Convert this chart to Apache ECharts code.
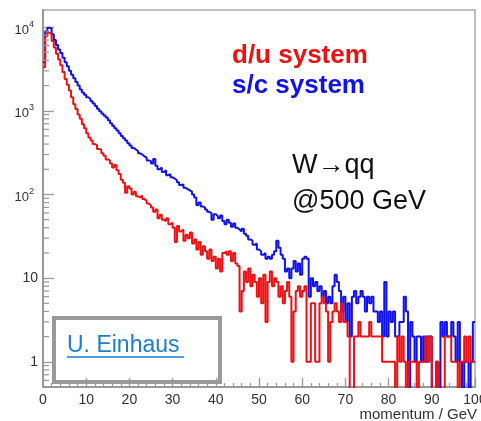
<!DOCTYPE html>
<html><head><meta charset="utf-8">
<script src="https://cdn.jsdelivr.net/npm/echarts@6/dist/echarts.min.js"></script>
<style>html,body{margin:0;padding:0;background:#fff}#c{width:481px;height:421px}</style>
</head><body><div id="c"></div>
<script>
// bin width in GeV; counts per 0.5 GeV bin, from 0 to 100 GeV (200 bins)
const binWidth = 0.5;
const seriesNames = ['d/u system', 's/c system'];
const duCounts = [
  3300, 7800, 8600, 8200, 6800, 5700, 4800, 4100, 3500, 2900,
  2400, 2050, 1750, 1450, 1200, 1050, 900, 800, 690, 620,
  540, 480, 440, 400, 390, 350, 340, 310, 290, 262,
  255, 235, 210, 225, 195, 175, 150, 138, 105, 125,
  118, 100, 108, 95, 92, 97, 88, 84, 78, 74,
  70, 62, 66, 52, 57, 50, 48, 52, 44, 46,
  40, 27, 42, 36, 38, 28, 33, 30, 35, 26,
  29, 22, 27, 19, 24, 21, 17, 22, 16, 18,
  13, 17, 12, 20, 21, 19, 21, 16, 20, 15,
  14, 4, 7, 12, 9, 13, 8, 11, 9, 6,
  10, 5, 11, 3, 9, 12, 8, 10, 9, 6,
  8, 5, 7, 9, 6, 1, 4, 7, 8, 6,
  7, 8, 1, 1, 5, 5, 1, 1, 5, 6,
  5, 4, 1, 3, 4, 5, 4, 3, 5, 3,
  3, 2, 0, 0, 2, 2, 3, 2, 2, 2,
  2, 3, 2, 2, 2, 2, 2, 1, 1, 1,
  1, 1, 1, 0, 2, 1, 2, 1, 0, 1,
  1, 1, 1, 0, 1, 1, 1, 2, 1, 2,
  0, 0, 1, 0, 0, 0, 2, 2, 2, 1,
  1, 1, 0, 1, 1, 2, 1, 2, 1, 1
];
const scCounts = [
  3800, 9000, 9800, 9600, 8200, 7000, 6100, 5400, 4900, 4300,
  3800, 3400, 3000, 2700, 2450, 2200, 2000, 1800, 1650, 1550,
  1450, 1380, 1300, 1220, 1140, 1060, 990, 930, 880, 830,
  770, 710, 660, 620, 580, 540, 500, 470, 440, 410,
  385, 360, 345, 330, 310, 300, 285, 275, 255, 250,
  235, 265, 220, 200, 210, 185, 195, 170, 175, 160,
  155, 148, 140, 130, 132, 120, 116, 112, 108, 100,
  92, 75, 80, 72, 70, 66, 62, 60, 50, 58,
  55, 52, 56, 48, 44, 50, 46, 41, 45, 40,
  38, 36, 39, 34, 32, 29, 28, 25, 26, 22,
  21, 19, 20, 17, 18, 17, 19, 21, 28, 23,
  19, 17, 12, 13, 10, 13, 16, 12, 15, 11,
  17, 18, 17, 6, 10, 8, 9, 7, 8, 6,
  7, 5, 6, 5, 8, 11, 9, 7, 4, 6,
  3, 5, 2, 6, 7, 5, 6, 7, 6, 4,
  6, 5, 6, 4, 4, 3, 4, 2, 9, 2,
  4, 3, 4, 2, 2, 3, 3, 6, 4, 0,
  3, 2, 1, 2, 2, 1, 2, 1, 2, 2,
  0, 0, 1, 0, 3, 2, 3, 2, 2, 3,
  2, 1, 3, 1, 0, 1, 1, 0, 1, 3
];
const yMinorTickValues = [0.6,0.7,0.8,0.9,2,3,4,5,6,7,8,9,20,30,40,50,60,70,80,90,200,300,400,500,600,700,800,900,2000,3000,4000,5000,6000,7000,8000,9000];
const annotationLines = ['W\u2192qq', '@500 GeV'];
const authorText = 'U. Einhaus';
const xAxisTitle = 'momentum / GeV';

const FONT = 'Liberation Sans, Arial, Helvetica, sans-serif';
const EMPTY = 0.3; // empty bins fall below the axis floor, as ROOT draws them

function toSteps(counts) {
  const pts = counts.map((c, i) => [i * binWidth, c > 0 ? c : EMPTY]);
  const last = counts[counts.length - 1];
  pts.push([counts.length * binWidth, last > 0 ? last : EMPTY]);
  return pts;
}

const chart = echarts.init(document.getElementById('c'), null, {renderer: 'canvas'});
chart.setOption({
  animation: false,
  backgroundColor: '#fff',
  grid: {left: 43, right: 6, top: 10, bottom: 34, show: true, borderColor: '#aaa', borderWidth: 1.5,
         backgroundColor: 'transparent', containLabel: false, outerBoundsMode: 'none'},
  legend: {
    orient: 'vertical', left: 227, top: 43, padding: 0, itemGap: 4,
    icon: 'none', itemWidth: 0, itemHeight: 0, selectedMode: false,
    data: [
      {name: seriesNames[0], textStyle: {color: '#ee1111'}},
      {name: seriesNames[1], textStyle: {color: '#1111ee'}}
    ],
    textStyle: {fontSize: 26, fontWeight: 'bold', fontFamily: FONT}
  },
  xAxis: {
    type: 'value', min: 0, max: 100, interval: 10,
    axisLine: {show: true, onZero: false, lineStyle: {color: '#999', width: 2}},
    axisTick: {show: true, inside: true, length: 9, lineStyle: {color: '#999', width: 1.3}},
    minorTick: {show: true, splitNumber: 5, length: 4, lineStyle: {color: '#999', width: 1.2}},
    axisLabel: {fontSize: 14, color: '#333', margin: 6, fontFamily: FONT, showMaxLabel: true, showMinLabel: true, hideOverlap: false},
    splitLine: {show: false},
    name: xAxisTitle, nameLocation: 'end', nameGap: 2,
    nameTextStyle: {fontSize: 15, color: '#333', fontFamily: FONT, align: 'right', verticalAlign: 'top', padding: [20, 0, 0, 0]}
  },
  yAxis: {
    type: 'log', logBase: 10, min: 0.5, max: 16000,
    axisLine: {show: true, lineStyle: {color: '#999', width: 2}},
    axisTick: {show: true, inside: true, length: 11, lineStyle: {color: '#999', width: 1.3}},
    axisLabel: {
      color: '#333', fontSize: 14, fontFamily: FONT, margin: 5, showMinLabel: false, showMaxLabel: false,
      formatter: function (v) {
        const e = Math.round(Math.log10(v));
        if (Math.abs(v - Math.pow(10, e)) > 1e-6 * v) return '';
        if (e === 0) return '1';
        if (e === 1) return '10';
        return '{b|10}{s|' + e + '}';
      },
      rich: {
        b: {fontSize: 13, color: '#333', fontFamily: FONT, padding: [6, 0, 0, 0]},
        s: {fontSize: 9, color: '#333', fontFamily: FONT, padding: [0, 4, 6, 0]}
      }
    },
    splitLine: {show: false}
  },
  series: [
    {
      name: seriesNames[0], type: 'line', step: 'end', showSymbol: false, symbol: 'none', clip: true,
      data: toSteps(duCounts), lineStyle: {color: '#ee1111', width: 2}, itemStyle: {color: '#ee1111'}, z: 3
    },
    {
      name: seriesNames[1], type: 'line', step: 'end', showSymbol: false, symbol: 'none', clip: true,
      data: toSteps(scCounts), lineStyle: {color: '#1111ee', width: 2}, itemStyle: {color: '#1111ee'}, z: 2
    },
    {
      type: 'custom', silent: true, z: 4,
      data: yMinorTickValues.map(v => [0, v]),
      renderItem: function (params, api) {
        const p = api.coord([0, api.value(1)]);
        return {type: 'line', shape: {x1: p[0], y1: p[1], x2: p[0] + 6, y2: p[1]}, style: {stroke: '#999', lineWidth: 1.2}};
      }
    }
  ],
  graphic: [
    {type: 'text', left: 292, top: 152, style: {text: annotationLines[0], fontSize: 27, fontFamily: FONT, fill: '#111'}},
    {type: 'text', left: 292, top: 188, style: {text: annotationLines[1], fontSize: 27, fontFamily: FONT, fill: '#111'}},
    {type: 'rect', left: 52, top: 316, shape: {width: 166, height: 64}, style: {fill: '#fff', stroke: '#999', lineWidth: 4}},
    {type: 'text', left: 67, top: 334, style: {text: authorText, fontSize: 23, fontFamily: FONT, fill: '#1a7fd0'}},
    {type: 'line', shape: {x1: 67, y1: 357, x2: 184, y2: 357}, style: {stroke: '#1a7fd0', lineWidth: 1.5}}
  ]
});
</script>
</body></html>
